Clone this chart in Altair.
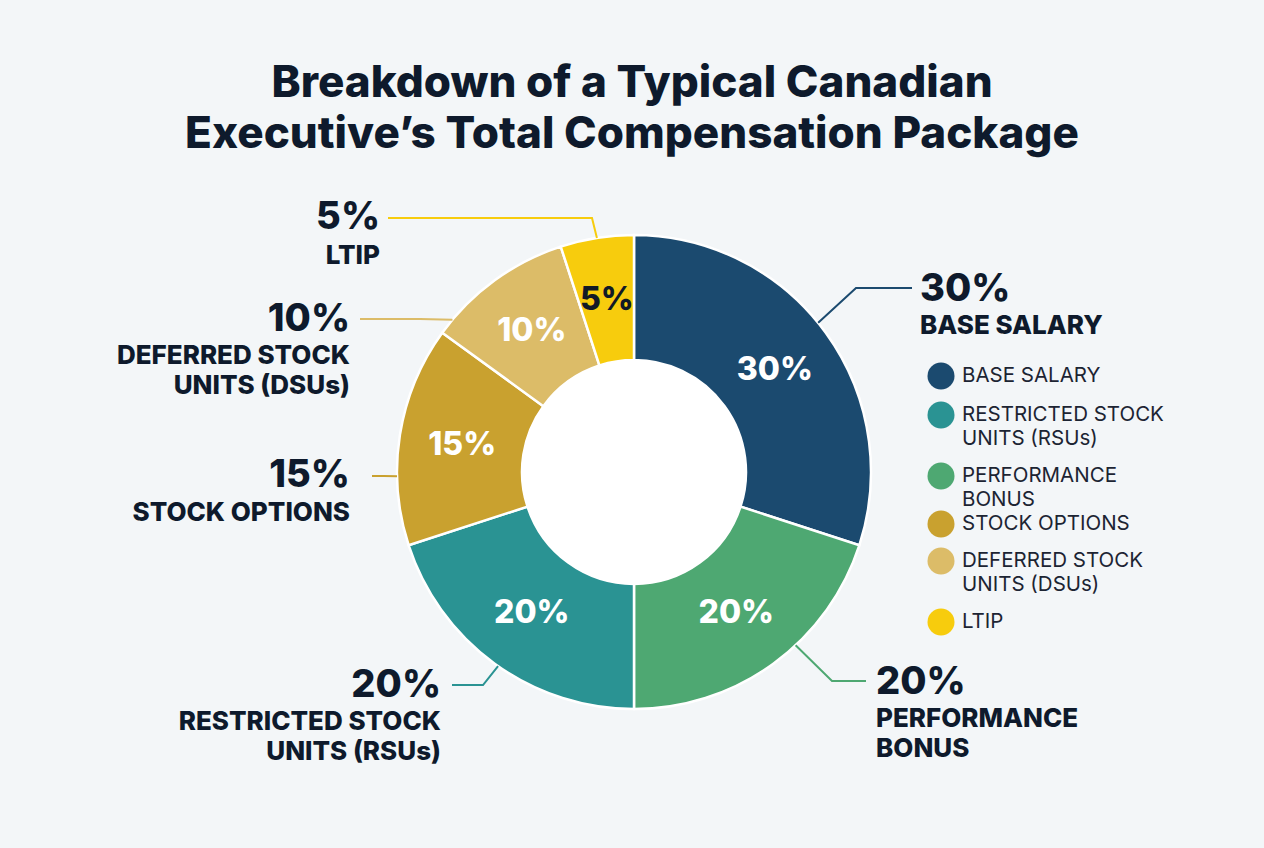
import math

import altair as alt
import pandas as pd

# ---- data -------------------------------------------------------------
categories = [
    "Base Salary",
    "Performance Bonus",
    "Restricted Stock Units (RSUs)",
    "Stock Options",
    "Deferred Stock Units (DSUs)",
    "LTIP",
]
shares = [30, 20, 20, 15, 10, 5]
slice_colors = ["#1b4a6f", "#4ea872", "#2a9393", "#c9a12f", "#dcbc68", "#f7cc0d"]
inner_text_colors = ["#ffffff", "#ffffff", "#ffffff", "#ffffff", "#ffffff", "#111a26"]
callout_names = [
    ["BASE SALARY"],
    ["PERFORMANCE", "BONUS"],
    ["RESTRICTED STOCK", "UNITS (RSUs)"],
    ["STOCK OPTIONS"],
    ["DEFERRED STOCK", "UNITS (DSUs)"],
    ["LTIP"],
]
legend_order = [
    "Base Salary",
    "Restricted Stock Units (RSUs)",
    "Performance Bonus",
    "Stock Options",
    "Deferred Stock Units (DSUs)",
    "LTIP",
]
legend_names = [
    ["BASE SALARY"],
    ["RESTRICTED STOCK", "UNITS (RSUs)"],
    ["PERFORMANCE", "BONUS"],
    ["STOCK OPTIONS"],
    ["DEFERRED STOCK", "UNITS (DSUs)"],
    ["LTIP"],
]
title_lines = [
    "Breakdown of a Typical Canadian",
    "Executive\u2019s Total Compensation Package",
]

# ---- layout -----------------------------------------------------------
W, H = 1264, 848
CX, CY = 634, 472
R_OUT, R_IN, R_LAB = 237, 112, 174
FONT = "Inter"
INK = "#0e1a2c"

# callouts: anchor angle on the rim (deg, clockwise from top), elbow, line end,
# text anchor x, alignment, percent y, first name-line y
callouts = [
    dict(angle=51, elbow=(856, 288), end=(912, 288), tx=920, align="left", py=290, ny=326),
    dict(angle=137, elbow=(832, 681), end=(866, 681), tx=876, align="left", py=683, ny=719),
    dict(angle=215, elbow=(483, 685), end=(452, 685), tx=441, align="right", py=686, ny=722),
    dict(angle=269, elbow=(384, 476), end=(372, 476), tx=350, align="right", py=476, ny=513),
    dict(angle=310, elbow=(420, 319), end=(360, 319), tx=350, align="right", py=320, ny=356),
    dict(angle=351, elbow=(592, 218), end=(388, 218), tx=380, align="right", py=218, ny=256),
]
NAME_STEP = 30
LEGEND_X, LEGEND_TX = 941, 962
LEGEND_Y = [376, 415, 476, 524, 561, 622]
LEGEND_STEP = 24
LEGEND_DOT = 27  # dot diameter in px

color_scale = alt.Scale(domain=categories, range=slice_colors)

# ---- tables -----------------------------------------------------------
pie_df = pd.DataFrame(
    {
        "category": categories,
        "share": shares,
        "order": list(range(len(categories))),
        "pct": [f"{s}%" for s in shares],
        "txt_color": inner_text_colors,
    }
)

line_rows, pct_rows, name_rows = [], [], []
for cat, share, names, c in zip(categories, shares, callout_names, callouts):
    a = math.radians(c["angle"])
    sx, sy = CX + R_OUT * math.sin(a), CY - R_OUT * math.cos(a)
    for i, (px, py) in enumerate([(sx, sy), c["elbow"], c["end"]]):
        line_rows.append({"category": cat, "i": i, "px": px, "py": py})
    pct_rows.append({"category": cat, "align": c["align"], "px": c["tx"], "py": c["py"], "text": f"{share}%"})
    for j, n in enumerate(names):
        name_rows.append({"category": cat, "align": c["align"], "px": c["tx"], "py": c["ny"] + j * NAME_STEP, "text": n})
line_df = pd.DataFrame(line_rows)
pct_df = pd.DataFrame(pct_rows)
name_df = pd.DataFrame(name_rows)

leg_sym, leg_txt = [], []
for cat, names, y in zip(legend_order, legend_names, LEGEND_Y):
    leg_sym.append({"category": cat, "px": LEGEND_X, "py": y})
    for j, n in enumerate(names):
        leg_txt.append({"px": LEGEND_TX, "py": y + j * LEGEND_STEP, "text": n})
leg_sym_df = pd.DataFrame(leg_sym)
leg_txt_df = pd.DataFrame(leg_txt)

title_df = pd.DataFrame({"text": title_lines, "px": [W / 2, W / 2], "py": [97, 148]})
hole_df = pd.DataFrame({"px": [CX], "py": [CY]})

px = alt.X("px:Q", scale=None, axis=None)
py = alt.Y("py:Q", scale=None, axis=None)

# ---- layers -----------------------------------------------------------
# white disc filling the donut hole (symbol size is the squared diameter)
hole = (
    alt.Chart(hole_df)
    .mark_circle(color="white", opacity=1, size=(2 * (R_IN + 4)) ** 2)
    .encode(x=px, y=py)
)

donut = (
    alt.Chart(pie_df)
    .mark_arc(outerRadius=R_OUT, innerRadius=R_IN, stroke="white", strokeWidth=2.5)
    .encode(
        theta=alt.Theta("share:Q", stack=True),
        order=alt.Order("order:Q", sort="ascending"),
        color=alt.Color("category:N", scale=color_scale, legend=None),
        x=alt.value(CX),
        y=alt.value(CY),
    )
)

inner_labels = (
    alt.Chart(pie_df)
    .mark_text(radius=R_LAB, font=FONT, fontSize=32, fontWeight=800)
    .encode(
        theta=alt.Theta("share:Q", stack=True),
        order=alt.Order("order:Q", sort="ascending"),
        text="pct:N",
        color=alt.Color("txt_color:N", scale=None),
        x=alt.value(CX),
        y=alt.value(CY),
    )
)

leaders = (
    alt.Chart(line_df)
    .mark_line(strokeWidth=2)
    .encode(
        x=px,
        y=py,
        detail="category:N",
        order="i:Q",
        color=alt.Color("category:N", scale=color_scale, legend=None),
    )
)


def side_text(df, size, weight):
    layers = []
    for align in ["left", "right"]:
        layers.append(
            alt.Chart(df)
            .transform_filter(alt.datum.align == align)
            .mark_text(align=align, baseline="middle", font=FONT, fontSize=size, fontWeight=weight, color=INK)
            .encode(x=px, y=py, text="text:N")
        )
    return layers


pct_text = side_text(pct_df, 38, 800)
name_text = side_text(name_df, 26, 800)

legend_dots = (
    alt.Chart(leg_sym_df)
    .mark_point(shape="circle", filled=True, size=LEGEND_DOT**2, opacity=1)
    .encode(x=px, y=py, color=alt.Color("category:N", scale=color_scale, legend=None))
)
legend_labels = (
    alt.Chart(leg_txt_df)
    .mark_text(align="left", baseline="middle", font=FONT, fontSize=20.5, color="#1c2433")
    .encode(x=px, y=py, text="text:N")
)

title = (
    alt.Chart(title_df)
    .mark_text(align="center", baseline="alphabetic", font=FONT, fontSize=44, fontWeight=800, color=INK)
    .encode(x=px, y=py, text="text:N")
)

chart = (
    alt.layer(hole, donut, inner_labels, leaders, *pct_text, *name_text, legend_dots, legend_labels, title)
    .properties(
        width=W,
        height=H,
        padding=0,
        autosize=alt.AutoSizeParams(type="none"),
        background="#f3f6f8",
    )
    .configure_view(stroke=None)
)

chart.save("out.html", embed_options={"renderer": "svg", "actions": False})
